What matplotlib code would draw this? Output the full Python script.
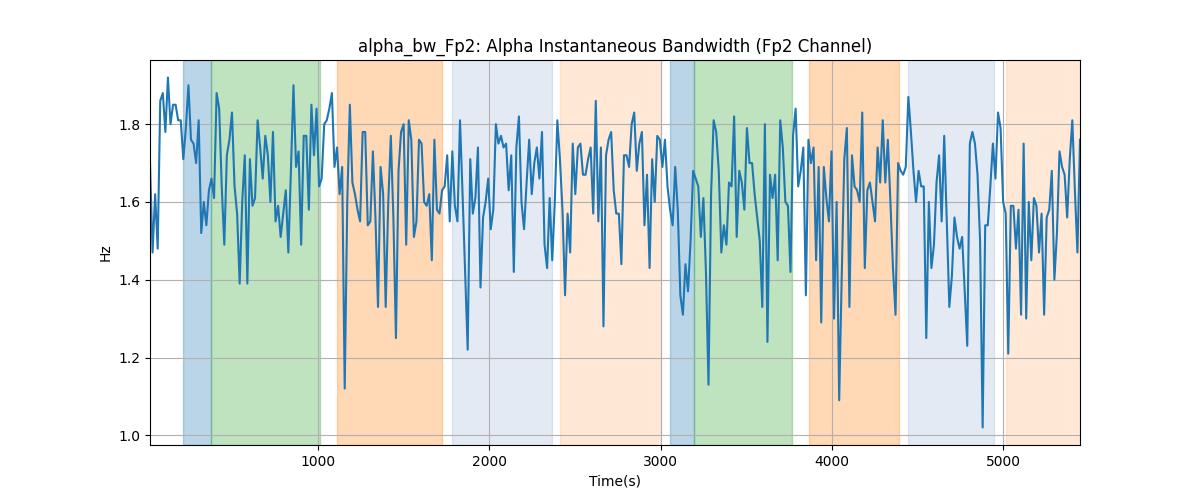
import numpy as np
import matplotlib
matplotlib.use("Agg")
import matplotlib.pyplot as plt

# Alpha bandwidth values (Hz)
bw_values = [
    1.70, 1.47, 1.62, 1.48, 1.86, 1.88, 1.78, 1.92, 1.80, 1.85, 1.85, 1.81, 1.81, 1.71, 1.79, 1.90,
    1.76, 1.75, 1.70, 1.81, 1.52, 1.60, 1.54, 1.63, 1.66, 1.61, 1.88, 1.84, 1.64, 1.49, 1.72, 1.76,
    1.83, 1.64, 1.57, 1.39, 1.60, 1.72, 1.39, 1.71, 1.59, 1.61, 1.81, 1.74, 1.66, 1.77,
    1.72, 1.60, 1.78, 1.55, 1.59, 1.51, 1.57, 1.63, 1.47, 1.68, 1.90, 1.69, 1.73, 1.49, 1.77, 1.77,
    1.58, 1.85, 1.72, 1.84, 1.64, 1.66, 1.80, 1.81, 1.84, 1.88, 1.69, 1.74, 1.62, 1.69, 1.12, 1.60,
    1.85, 1.65, 1.62, 1.58, 1.55, 1.78, 1.78, 1.54, 1.55, 1.73, 1.56, 1.33, 1.69,
    1.62, 1.33, 1.60, 1.77, 1.56, 1.25, 1.68, 1.78, 1.80, 1.49, 1.81, 1.76, 1.51, 1.55, 1.76, 1.75,
    1.60, 1.59, 1.62, 1.45, 1.76, 1.58, 1.57, 1.63, 1.64, 1.72, 1.55, 1.73, 1.59, 1.55, 1.81, 1.62,
    1.42, 1.22, 1.71, 1.57, 1.61, 1.74, 1.38, 1.56, 1.60, 1.66, 1.53, 1.58, 1.80,
    1.75, 1.77, 1.74, 1.75, 1.63, 1.72, 1.42, 1.74, 1.82, 1.60, 1.53, 1.65, 1.76, 1.62, 1.70, 1.74,
    1.66, 1.78, 1.49, 1.43, 1.61, 1.45, 1.60, 1.81, 1.71, 1.58, 1.36, 1.57, 1.47, 1.75, 1.62, 1.74,
    1.75, 1.67, 1.67, 1.71, 1.74, 1.57, 1.86, 1.55, 1.74, 1.28, 1.72, 1.76, 1.78, 1.63,
    1.57, 1.57, 1.44, 1.72, 1.72, 1.69, 1.80, 1.83, 1.68, 1.75, 1.78, 1.54, 1.67, 1.43, 1.71, 1.60,
    1.77, 1.76, 1.69, 1.76, 1.64, 1.58, 1.54, 1.69, 1.58, 1.36, 1.31, 1.44, 1.37, 1.50, 1.68, 1.66,
    1.64, 1.51, 1.61, 1.42, 1.13, 1.62, 1.81, 1.78, 1.68, 1.47, 1.54, 1.49, 1.65,
    1.64, 1.82, 1.51, 1.68, 1.65, 1.58, 1.79, 1.70, 1.70, 1.62, 1.56, 1.50, 1.33, 1.80, 1.24, 1.67,
    1.61, 1.67, 1.45, 1.81, 1.74, 1.60, 1.59, 1.42, 1.77, 1.84, 1.64, 1.68, 1.74, 1.36, 1.76, 1.70,
    1.74, 1.45, 1.69, 1.29, 1.69, 1.61, 1.55, 1.73, 1.30, 1.60, 1.09, 1.41, 1.71,
    1.79, 1.33, 1.72, 1.64, 1.63, 1.60, 1.83, 1.43, 1.63, 1.65, 1.60, 1.55, 1.74, 1.65, 1.81, 1.65,
    1.76, 1.60, 1.43, 1.31, 1.70, 1.68, 1.67, 1.69, 1.87, 1.78, 1.68, 1.60, 1.68, 1.64, 1.64, 1.25,
    1.60, 1.43, 1.49, 1.65, 1.72, 1.55, 1.77, 1.55, 1.33, 1.41, 1.56, 1.51, 1.48, 1.51,
    1.37, 1.23, 1.75, 1.78, 1.75, 1.67, 1.50, 1.02, 1.54, 1.54, 1.64, 1.75, 1.66, 1.83, 1.79, 1.60,
    1.57, 1.21, 1.59, 1.59, 1.48, 1.58, 1.31, 1.75, 1.30, 1.60, 1.45, 1.61, 1.59, 1.47, 1.57, 1.31,
    1.56, 1.58, 1.68, 1.40, 1.52, 1.73, 1.69, 1.67, 1.56, 1.71, 1.81, 1.63, 1.47, 1.76,
]
t_start, t_end = 18, 5450

# Task segments (start, end in seconds) and their shading
seg_starts = [211, 372, 1111, 1784, 2415, 3058, 3193, 3865, 4444, 5018]
seg_ends = [372, 1012, 1725, 2368, 3000, 3193, 3766, 4392, 4947, 5460]
seg_colors = ['tab:blue', 'tab:green', 'tab:orange', '#4c72b0', 'tab:orange',
              'tab:blue', 'tab:green', 'tab:orange', '#4c72b0', 'tab:orange']
seg_alphas = [0.3, 0.3, 0.3, 0.15, 0.17, 0.3, 0.3, 0.3, 0.15, 0.17]

time_s = np.linspace(t_start, t_end, len(bw_values))

fig, ax = plt.subplots(figsize=(12, 5), dpi=100)
for s, e, c, a in zip(seg_starts, seg_ends, seg_colors, seg_alphas):
    ax.axvspan(s, e, color=c, alpha=a)
ax.plot(time_s, bw_values, color='tab:blue')
ax.set_xlim(time_s[0], time_s[-1])
ax.grid(True)
ax.set_title('alpha_bw_Fp2: Alpha Instantaneous Bandwidth (Fp2 Channel)')
ax.set_xlabel('Time(s)')
ax.set_ylabel('Hz')
plt.savefig('out.png')
